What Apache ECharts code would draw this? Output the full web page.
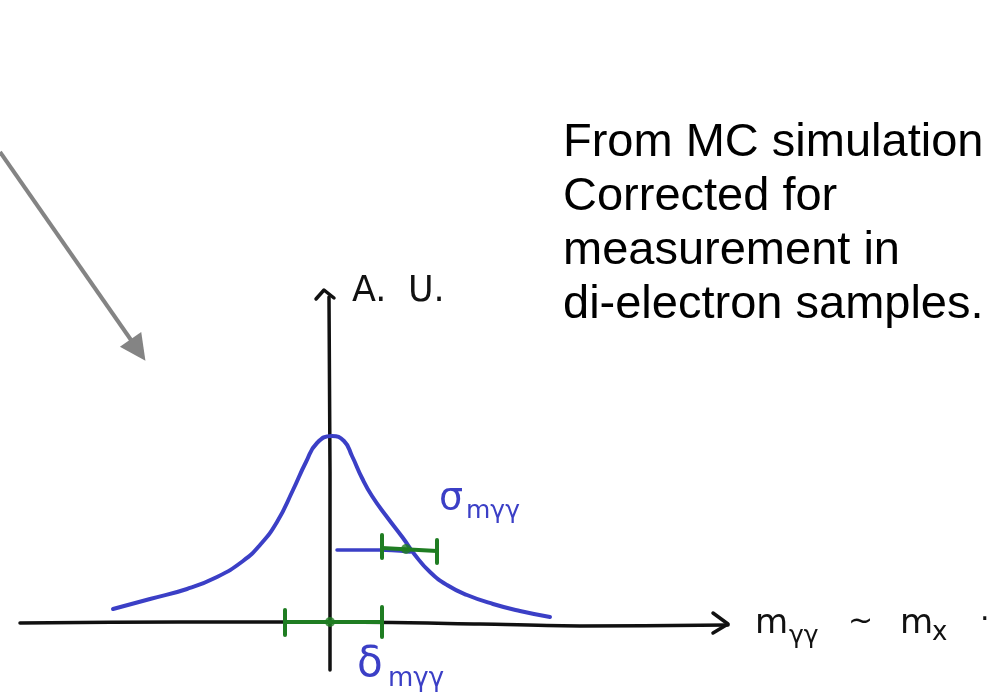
<!DOCTYPE html>
<html>
<head>
<meta charset="utf-8">
<script src="https://cdn.jsdelivr.net/npm/echarts@6/dist/echarts.min.js"></script>
<style>
  html, body { margin: 0; padding: 0; background: #ffffff; }
  #chart { width: 994px; height: 692px; }
</style>
</head>
<body>
<div id="chart"></div>
<script>
// Sketch of the di-photon mass resolution shape (arbitrary units).
// x: m_γγ - m_X offset, y: A.U.

// Resolution curve
const curveX = [-2.17, -1.80, -1.43, -1.13, -0.87, -0.70, -0.53, -0.37, -0.24, -0.13, 0.02, 0.14, 0.22, 0.32, 0.42, 0.57, 0.73, 0.85, 1.00, 1.17, 1.37, 1.63, 1.90, 2.20];
const curveY = [0.13, 0.23, 0.33, 0.45, 0.61, 0.77, 1.00, 1.32, 1.60, 1.79, 1.86, 1.81, 1.66, 1.44, 1.26, 1.05, 0.84, 0.67, 0.50, 0.37, 0.27, 0.18, 0.11, 0.05];

// Width marker (σ) drawn from the axis to the curve
const widthLineX = [0.07, 0.50, 0.80];
const widthLineY = [0.72, 0.72, 0.70];

// Horizontal axis (slightly hand-drawn) and its arrow head
const hAxisX = [-3.10, -1.5, 0, 1.5, 2.5, 3.98];
const hAxisY = [-0.01, 0.00, 0.00, -0.02, -0.04, -0.03];
const hArrowX = [3.83, 3.98, 3.83];
const hArrowY = [0.09, -0.02, -0.11];

// Vertical axis and its arrow head
const vAxisX = [0.00, 0.00, -0.01];
const vAxisY = [-0.48, 1.50, 3.25];
const vArrowX = [-0.14, -0.06, 0.04];
const vArrowY = [3.23, 3.32, 3.24];

// Green error bars: [xLeft, xRight, yLeft, yRight, capLeftLow, capLeftHigh, capRightLow, capRightHigh]
const sigmaBar = [0.52, 1.07, 0.74, 0.71, 0.64, 0.87, 0.59, 0.82];
const deltaBar = [-0.45, 0.52, 0.00, 0.00, -0.13, 0.12, -0.15, 0.15];
const barCentres = [[0.76, 0.73], [0.00, 0.00]];

// Pointer arrow
const pointerFrom = [-3.30, 4.70];
const pointerTo = [-1.92, 2.72];

const BLACK = '#111111';
const BLUE = '#3b3fc6';
const GREEN = '#1f7d22';

function zip(xs, ys) { return xs.map((x, i) => [x, ys[i]]); }

function lineSeries(data, color, width, smooth) {
  return {
    type: 'line', data: data, symbol: 'none', smooth: smooth || false,
    lineStyle: { color: color, width: width, cap: 'round', join: 'round' },
    silent: true, animation: false, z: 3
  };
}

function errorBarSeries(b) {
  return [
    lineSeries([[b[0], b[2]], [b[1], b[3]]], GREEN, 4),
    lineSeries([[b[0], b[4]], [b[0], b[5]]], GREEN, 4),
    lineSeries([[b[1], b[6]], [b[1], b[7]]], GREEN, 4)
  ];
}

const chart = echarts.init(document.getElementById('chart'));

const series = [
  lineSeries(zip(hAxisX, hAxisY), BLACK, 3.5, 0.3),
  lineSeries(zip(hArrowX, hArrowY), BLACK, 3.5),
  lineSeries(zip(vAxisX, vAxisY), BLACK, 3.5),
  lineSeries(zip(vArrowX, vArrowY), BLACK, 3.5),
  lineSeries(zip(curveX, curveY), BLUE, 4, 0.5),
  lineSeries(zip(widthLineX, widthLineY), BLUE, 3.5, 0.3),
  ...errorBarSeries(sigmaBar),
  ...errorBarSeries(deltaBar),
  {
    type: 'scatter', data: barCentres, symbolSize: 10,
    itemStyle: { color: GREEN }, silent: true, animation: false, z: 4
  },
  {
    type: 'lines', coordinateSystem: 'cartesian2d',
    data: [{ coords: [pointerFrom, pointerTo] }],
    symbol: ['none', 'triangle'], symbolSize: [22, 26],
    lineStyle: { color: '#848484', width: 4, opacity: 1, curveness: 0 },
    silent: true, animation: false, z: 2
  }
];

const handFont = '"DejaVu Sans", sans-serif';

chart.setOption({
  backgroundColor: '#ffffff',
  animation: false,
  grid: { left: 0, right: 0, top: 0, bottom: 0 },
  xAxis: { type: 'value', min: -3.30, max: 6.64, show: false },
  yAxis: { type: 'value', min: -0.70, max: 6.22, show: false },
  series: series,
  graphic: [
    {
      type: 'text', left: 563, top: 116,
      style: {
        text: 'From MC simulation\nCorrected for\nmeasurement in\ndi-electron samples.',
        font: '47px "Liberation Sans", Arial, sans-serif',
        lineHeight: 54, fill: '#000000'
      }
    },
    { type: 'text', left: 352, top: 274,
      style: { text: 'A.', font: '35px ' + handFont, fill: BLACK } },
    { type: 'text', left: 408, top: 274,
      style: { text: 'U.', font: '35px ' + handFont, fill: BLACK } },
    { type: 'text', left: 439, top: 480,
      style: { text: 'σ', font: '38px ' + handFont, fill: BLUE } },
    { type: 'text', left: 466, top: 499,
      style: { text: 'mγγ', font: '25px ' + handFont, fill: BLUE } },
    { type: 'text', left: 357, top: 644,
      style: { text: 'δ', font: '42px ' + handFont, fill: BLUE } },
    { type: 'text', left: 388, top: 666,
      style: { text: 'mγγ', font: '26px ' + handFont, fill: BLUE } },
    { type: 'text', left: 755, top: 607,
      style: { text: 'm', font: '34px ' + handFont, fill: BLACK } },
    { type: 'text', left: 789, top: 624,
      style: { text: 'γγ', font: '25px ' + handFont, fill: BLACK } },
    { type: 'text', left: 848, top: 607,
      style: { text: '~', font: '30px ' + handFont, fill: BLACK } },
    { type: 'text', left: 900, top: 607,
      style: { text: 'm', font: '34px ' + handFont, fill: BLACK } },
    { type: 'text', left: 932, top: 620,
      style: { text: 'x', font: '26px ' + handFont, fill: BLACK } },
    { type: 'text', left: 980, top: 606,
      style: { text: '·', font: '30px ' + handFont, fill: BLACK } }
  ]
});
</script>
</body>
</html>
